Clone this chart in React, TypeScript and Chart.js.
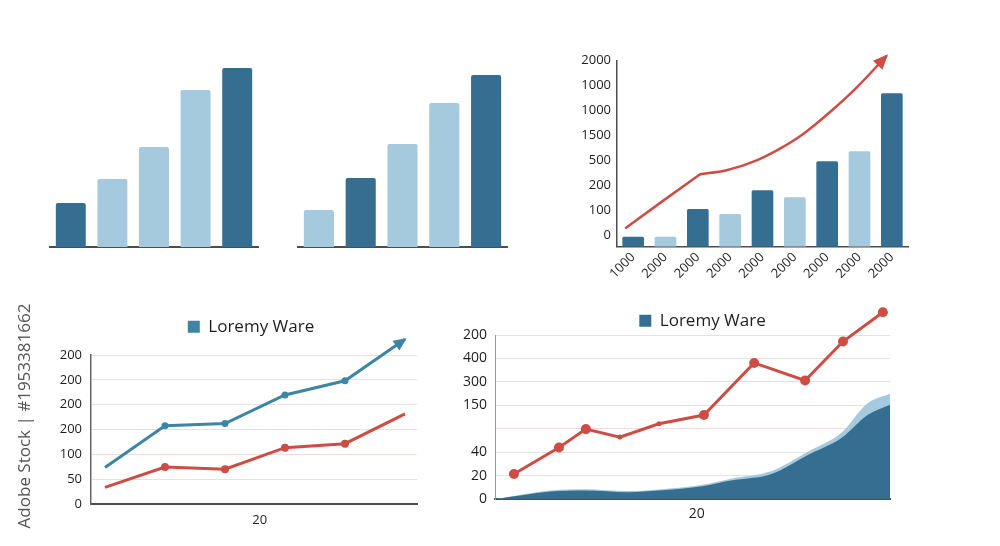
import React, { useEffect, useRef } from "react";
import { Chart, registerables } from "chart.js";

Chart.register(...registerables);
Chart.defaults.font.family = "'Open Sans', 'DejaVu Sans', sans-serif";
Chart.defaults.color = "#1e1e1e";

// ---------- data ----------
// top-left bar chart
const A_CATEGORIES = ["a1", "a2", "a3", "a4", "a5"];
const A_VALUES = [44, 68, 100, 157, 179];
const A_TONES = ["dark", "light", "light", "light", "dark"];

// top-middle bar chart
const B_CATEGORIES = ["b1", "b2", "b3", "b4", "b5"];
const B_VALUES = [37, 69, 103, 144, 172];
const B_TONES = ["light", "dark", "light", "light", "dark"];

// top-right bar + trend chart
const C_CATEGORIES = ["1000", "2000", "2000", "2000", "2000", "2000", "2000", "2000", "2000"];
const C_VALUES = [0.4, 0.4, 1.51, 1.31, 2.27, 1.99, 3.43, 3.83, 6.16];
const C_TONES = ["dark", "light", "dark", "light", "dark", "light", "dark", "light", "dark"];
const C_Y_LABELS = ["0", "100", "200", "500", "1500", "1000", "1000", "2000"];
// straight rise up to the kink, then the smooth curve up to the arrow
const C_RISE_X = [0.28, 1.42, 2.57];
const C_RISE_Y = [0.76, 1.84, 2.91];
const C_CURVE_X = [2.57, 3.39, 4.32, 5.04, 5.76, 6.59, 7.41, 8.34];
const C_CURVE_Y = [2.91, 3.07, 3.47, 3.94, 4.53, 5.41, 6.39, 7.67];

// bottom-left line chart
const LEGEND_LABEL = "Loremy Ware";
const D_X = [0, 1, 2, 3, 4, 5];
const D_BLUE = [1.47, 3.15, 3.24, 4.39, 4.96, 6.63];
const D_RED = [0.67, 1.49, 1.4, 2.27, 2.43, 3.63];
const D_Y_LABELS = ["0", "50", "100", "200", "200", "200", "200"];
const D_X_LABEL = "20";

// bottom-right area + line chart
const E_LINE_X = [4.8, 16.2, 23.0, 31.6, 41.5, 52.9, 65.6, 78.5, 88.1, 98.2];
const E_LINE_Y = [1.08, 2.21, 2.99, 2.65, 3.22, 3.59, 5.81, 5.06, 6.72, 7.97];
const E_AREA_X = [0, 7.2, 14, 22.8, 33.8, 41.4, 52.9, 59.7, 70, 79.2, 87.6, 94.4, 100];
const E_AREA_DARK = [0, 0.18, 0.33, 0.37, 0.3, 0.37, 0.57, 0.8, 1.08, 1.89, 2.6, 3.6, 4.03];
const E_AREA_LIGHT = [0, 0.22, 0.38, 0.43, 0.35, 0.42, 0.63, 0.88, 1.21, 2.03, 2.82, 4.1, 4.5];
const E_Y_LABELS = ["0", "20", "40", "", "150", "300", "400", "200"];
const E_X_LABEL = "20";

const WATERMARK = "Adobe Stock | #1953381662";

// ---------- styles ----------
const DARK = "#366e91";
const LIGHT = "#a5c9dd";
const RED = "#cd4d45";
const BLUE = "#3d85a4";
const AXIS = "#4d4d4d";
const GRID = "#e2e2e2";
const PINK = "#f6dada";
const TEXT = "#1e1e1e";
const E_POINT_RADII = [5, 5, 5, 2.5, 2.5, 5, 5, 5, 5, 5];
const D_BLUE_RADII = [0, 3.5, 3.5, 3.5, 3.5, 0];
const D_RED_RADII = [0, 4, 4, 4, 4, 0];

const tone = (t: string) => (t === "dark" ? DARK : LIGHT);
const pts = (xs: number[], ys: number[]) => xs.map((x, i) => ({ x, y: ys[i] }));

// ---------- plugins ----------
const arrowHeads = {
  id: "arrowHeads",
  afterDatasetsDraw(chart: any, _a: any, opts: any) {
    const items = (opts && opts.items) || [];
    const ctx = chart.ctx;
    items.forEach((it: any) => {
      const meta = chart.getDatasetMeta(it.index);
      const el = meta.data;
      const last = el[el.length - 1];
      let fx = last.cp1x;
      let fy = last.cp1y;
      if (fx == null || (Math.abs(fx - last.x) < 0.5 && Math.abs(fy - last.y) < 0.5)) {
        fx = el[el.length - 2].x;
        fy = el[el.length - 2].y;
      }
      const ang = Math.atan2(last.y - fy, last.x - fx);
      const tipX = last.x + Math.cos(ang) * 2;
      const tipY = last.y + Math.sin(ang) * 2;
      const bx = tipX - Math.cos(ang) * it.length;
      const by = tipY - Math.sin(ang) * it.length;
      const hx = (Math.sin(ang) * it.width) / 2;
      const hy = (Math.cos(ang) * it.width) / 2;
      ctx.save();
      ctx.fillStyle = chart.data.datasets[it.index].borderColor;
      ctx.beginPath();
      ctx.moveTo(tipX, tipY);
      ctx.lineTo(bx + hx, by - hy);
      ctx.lineTo(bx - hx, by + hy);
      ctx.closePath();
      ctx.fill();
      ctx.restore();
    });
  },
};

// draws the point markers that lie just outside the chart area (Chart.js skips them)
const overflowPoints = {
  id: "overflowPoints",
  afterDatasetsDraw(chart: any, _a: any, opts: any) {
    const list = (opts && opts.datasets) || [];
    const a = chart.chartArea;
    const big = { left: -1e4, top: -1e4, right: 1e4, bottom: 1e4 };
    list.forEach((idx: number) => {
      const meta = chart.getDatasetMeta(idx);
      meta.data.forEach((el: any) => {
        const r = (el.options && el.options.radius) || 0;
        const inside =
          el.x >= a.left - r / 2 && el.x <= a.right + r / 2 && el.y >= a.top - r / 2 && el.y <= a.bottom + r / 2;
        if (!inside) el.draw(chart.ctx, big);
      });
    });
  },
};

const legendTweak = {
  id: "legendTweak",
  beforeLayout(chart: any, _a: any, opts: any) {
    const lg = chart.legend;
    if (lg && !lg.__tweaked) {
      const orig = lg.fit;
      lg.fit = function () {
        orig.call(this);
        this.height += (opts && opts.extra) || 0;
      };
      lg.__tweaked = true;
    }
  },
  afterLayout(chart: any, _a: any, opts: any) {
    const lg = chart.legend;
    if (lg && opts && opts.dx) {
      lg.left += opts.dx;
      lg.right += opts.dx;
    }
  },
};

const legendOne = (chart: any) =>
  (Chart.defaults.plugins.legend.labels as any)
    .generateLabels(chart)
    .filter((it: any) => it.text === LEGEND_LABEL)
    .map((it: any) => ({ ...it, lineWidth: 0 }));

// ---------- configs ----------
const simpleBars = (cats: string[], vals: number[], tones: string[], pad: any) => ({
  type: "bar",
  data: {
    labels: cats,
    datasets: [
      {
        data: vals,
        backgroundColor: tones.map(tone),
        borderRadius: 2,
        borderSkipped: "bottom",
        categoryPercentage: 1,
        barPercentage: 0.72,
      },
    ],
  },
  options: {
    responsive: false,
    animation: false,
    events: [],
    layout: { padding: pad },
    plugins: { legend: { display: false }, tooltip: { enabled: false } },
    scales: {
      x: {
        grid: { display: false, drawTicks: false },
        ticks: { display: false },
        border: { display: true, color: AXIS, width: 2 },
        afterFit: (s: any) => {
          s.height = 0;
        },
      },
      y: { display: false, min: 0, max: 200 },
    },
  },
});

const configC = () => ({
  type: "bar",
  data: {
    labels: C_CATEGORIES,
    datasets: [
      {
        type: "line",
        data: pts(C_RISE_X, C_RISE_Y),
        xAxisID: "x2",
        borderColor: RED,
        borderWidth: 2.5,
        borderCapStyle: "round",
        pointRadius: 0,
        tension: 0,
        clip: false,
        order: 0,
      },
      {
        type: "line",
        data: pts(C_CURVE_X, C_CURVE_Y),
        xAxisID: "x2",
        borderColor: RED,
        borderWidth: 2.5,
        pointRadius: 0,
        cubicInterpolationMode: "monotone",
        clip: false,
        order: 0,
      },
      {
        type: "bar",
        data: C_VALUES,
        backgroundColor: C_TONES.map(tone),
        borderRadius: 1.5,
        borderSkipped: "bottom",
        grouped: false,
        categoryPercentage: 1,
        barPercentage: 0.67,
        order: 1,
      },
    ],
  },
  options: {
    responsive: false,
    animation: false,
    events: [],
    layout: { padding: { top: 25.7, right: 12, left: 0, bottom: 0 } },
    plugins: {
      legend: { display: false },
      tooltip: { enabled: false },
      arrowHeads: { items: [{ index: 1, length: 15, width: 13 }] },
    },
    scales: {
      x: {
        grid: { display: false, drawTicks: false },
        ticks: { autoSkip: false, minRotation: 45, maxRotation: 45, font: { size: 13 }, color: TEXT, padding: 3 },
        border: { display: true, color: AXIS, width: 1.5 },
        afterFit: (s: any) => {
          s.height = 48.3;
        },
      },
      x2: { type: "linear", display: false, min: 0, max: 9, offset: false },
      y: {
        min: 0,
        max: 7.47,
        afterBuildTicks: (s: any) => {
          s.ticks = C_Y_LABELS.map((_, i) => ({ value: 0.47 + i }));
        },
        ticks: { callback: (_v: any, i: number) => C_Y_LABELS[i], font: { size: 13 }, color: TEXT, padding: 6 },
        grid: { display: false, drawTicks: false },
        border: { display: true, color: AXIS, width: 1.5 },
        afterFit: (s: any) => {
          s.width = 57;
        },
      },
    },
  },
  plugins: [arrowHeads],
});

const configD = () => ({
  type: "line",
  data: {
    datasets: [
      {
        label: LEGEND_LABEL,
        data: pts(D_X, D_BLUE),
        borderColor: BLUE,
        backgroundColor: BLUE,
        borderWidth: 3,
        pointRadius: D_BLUE_RADII,
        pointBackgroundColor: BLUE,
        pointBorderWidth: 0,
        tension: 0,
        clip: false,
      },
      {
        label: "red",
        data: pts(D_X, D_RED),
        borderColor: RED,
        backgroundColor: RED,
        borderWidth: 3,
        pointRadius: D_RED_RADII,
        pointBackgroundColor: RED,
        pointBorderWidth: 0,
        tension: 0,
        clip: false,
      },
    ],
  },
  options: {
    responsive: false,
    animation: false,
    events: [],
    layout: { padding: { top: 3.2, right: 55, left: 0, bottom: 0 } },
    plugins: {
      legend: {
        display: true,
        position: "top",
        labels: { boxWidth: 12, boxHeight: 12, padding: 10, font: { size: 17 }, color: TEXT, generateLabels: legendOne },
      },
      tooltip: { enabled: false },
      legendTweak: { extra: 9.8, dx: 27.5 },
      arrowHeads: { items: [{ index: 0, length: 13, width: 12 }] },
    },
    scales: {
      x: {
        type: "linear",
        min: -0.233,
        max: 5.2,
        afterBuildTicks: (s: any) => {
          s.ticks = [{ value: 2.58 }];
        },
        ticks: { callback: () => D_X_LABEL, font: { size: 13 }, color: TEXT, padding: 8 },
        grid: { display: false, drawTicks: false },
        border: { display: true, color: AXIS, width: 2 },
        afterFit: (s: any) => {
          s.height = 41;
        },
      },
      y: {
        min: 0,
        max: 6,
        afterBuildTicks: (s: any) => {
          s.ticks = D_Y_LABELS.map((_, i) => ({ value: i }));
        },
        ticks: { callback: (_v: any, i: number) => D_Y_LABELS[i], font: { size: 13 }, color: TEXT, padding: 9 },
        grid: { color: (c: any) => (c.tick && c.tick.value === 2 ? PINK : GRID), drawTicks: false, lineWidth: 1 },
        border: { display: true, color: "#666", width: 1.5 },
        afterFit: (s: any) => {
          s.width = 61;
        },
      },
    },
  },
  plugins: [arrowHeads, legendTweak],
});

const configE = () => ({
  type: "line",
  data: {
    datasets: [
      {
        label: LEGEND_LABEL,
        data: pts(E_AREA_X, E_AREA_DARK),
        fill: "origin",
        backgroundColor: DARK,
        borderColor: "transparent",
        borderWidth: 0,
        pointRadius: 0,
        cubicInterpolationMode: "monotone",
        order: 2,
      },
      {
        label: "band",
        data: pts(E_AREA_X, E_AREA_LIGHT),
        fill: "origin",
        backgroundColor: LIGHT,
        borderColor: "transparent",
        borderWidth: 0,
        pointRadius: 0,
        cubicInterpolationMode: "monotone",
        order: 3,
      },
      {
        label: "trend",
        data: pts(E_LINE_X, E_LINE_Y),
        borderColor: RED,
        backgroundColor: RED,
        borderWidth: 3,
        pointRadius: E_POINT_RADII,
        pointBackgroundColor: RED,
        pointBorderWidth: 0,
        tension: 0,
        clip: false,
        order: 1,
      },
    ],
  },
  options: {
    responsive: false,
    animation: false,
    events: [],
    layout: { padding: { top: 2.2, right: 30, left: 0, bottom: 0 } },
    plugins: {
      legend: {
        display: true,
        position: "top",
        labels: { boxWidth: 12, boxHeight: 12, padding: 10, font: { size: 17 }, color: TEXT, generateLabels: legendOne },
      },
      tooltip: { enabled: false },
      legendTweak: { extra: -4.2, dx: 32.5 },
      overflowPoints: { datasets: [2] },
    },
    scales: {
      x: {
        type: "linear",
        min: 0,
        max: 100,
        afterBuildTicks: (s: any) => {
          s.ticks = [{ value: 51.1 }];
        },
        ticks: { callback: () => E_X_LABEL, font: { size: 14 }, color: TEXT, padding: 6 },
        grid: { display: false, drawTicks: false },
        border: { display: true, color: AXIS, width: 2 },
        afterFit: (s: any) => {
          s.height = 40.7;
        },
      },
      y: {
        min: 0,
        max: 7,
        afterBuildTicks: (s: any) => {
          s.ticks = E_Y_LABELS.map((_, i) => ({ value: i }));
        },
        ticks: { callback: (_v: any, i: number) => E_Y_LABELS[i], font: { size: 14 }, color: TEXT, padding: 8 },
        grid: { color: (c: any) => (c.tick && c.tick.value === 3 ? PINK : GRID), drawTicks: false, lineWidth: 1 },
        border: { display: true, color: "#9a9a9a", width: 1 },
        afterFit: (s: any) => {
          s.width = 45;
        },
      },
    },
  },
  plugins: [legendTweak, overflowPoints],
});

// ---------- components ----------
function ChartBox(props: { left: number; top: number; width: number; height: number; make: () => any }) {
  const ref = useRef<HTMLCanvasElement>(null);
  useEffect(() => {
    const chart = new Chart(ref.current as HTMLCanvasElement, props.make());
    return () => chart.destroy();
  }, []);
  return (
    <canvas
      ref={ref}
      width={props.width}
      height={props.height}
      style={{ position: "absolute", left: props.left, top: props.top, width: props.width, height: props.height }}
    />
  );
}

export default function App() {
  return (
    <div
      style={{
        position: "absolute",
        left: 0,
        top: 0,
        width: 1000,
        height: 546,
        background: "#ffffff",
        overflow: "hidden",
      }}
    >
      <ChartBox
        left={40}
        top={40}
        width={230}
        height={210}
        make={() => simpleBars(A_CATEGORIES, A_VALUES, A_TONES, { left: 10, right: 12, top: 7, bottom: 3 })}
      />
      <ChartBox
        left={290}
        top={40}
        width={230}
        height={210}
        make={() => simpleBars(B_CATEGORIES, B_VALUES, B_TONES, { left: 8, right: 13, top: 7, bottom: 3 })}
      />
      <ChartBox left={560} top={35} width={360} height={260} make={configC} />
      <ChartBox left={30} top={305} width={442} height={240} make={configD} />
      <ChartBox left={450} top={300} width={470} height={240} make={configE} />
      <div
        style={{
          position: "absolute",
          left: 24 - 120,
          top: 416 - 12,
          width: 240,
          height: 24,
          lineHeight: "24px",
          textAlign: "center",
          whiteSpace: "nowrap",
          transform: "rotate(-90deg)",
          transformOrigin: "50% 50%",
          fontFamily: "'Open Sans', sans-serif",
          fontSize: 17,
          color: "#555555",
        }}
      >
        {WATERMARK}
      </div>
    </div>
  );
}
